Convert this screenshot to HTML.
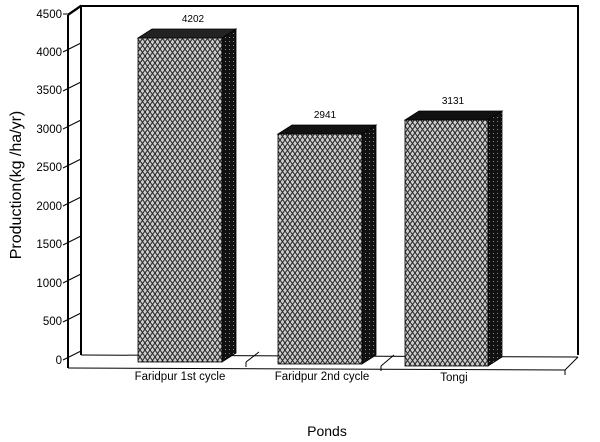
<!DOCTYPE html>
<html><head><style>body{margin:0;background:#fff}svg{display:block}text{font-family:"Liberation Sans",sans-serif;fill:#000}</style></head><body>
<svg width="600" height="442" viewBox="0 0 600 442">
<defs>
<pattern id="x" width="5" height="7" patternUnits="userSpaceOnUse">
<rect width="5" height="7" fill="#ccc"/>
<path d="M0,0L2.5,3.5L0,7M5,0L2.5,3.5L5,7" stroke="#222" stroke-width="1" fill="none"/>
</pattern>
<pattern id="d" width="4" height="4" patternUnits="userSpaceOnUse">
<rect width="4" height="4" fill="#111"/><rect x="1" y="1" width="1" height="1" fill="#888"/>
</pattern>
</defs>
<g stroke="#000" fill="none" stroke-width="2">
<polyline points="81,355 81,6 578,6 578,355"/>
<line x1="68" y1="15" x2="68" y2="368"/>
<line x1="68" y1="15" x2="81" y2="6"/>
</g>
<g stroke="#000" stroke-width="1" fill="none">
<line x1="68" y1="368" x2="565" y2="370"/>
<line x1="81" y1="355" x2="578" y2="357"/>
<line x1="565" y1="370" x2="578" y2="357"/>
<line x1="565" y1="370" x2="565" y2="375"/>
<line x1="246" y1="362" x2="259" y2="352"/><line x1="246" y1="362" x2="246" y2="367"/>
<line x1="381" y1="366" x2="394" y2="355"/><line x1="381" y1="366" x2="381" y2="371"/>
</g>
<g font-size="11.5" text-anchor="end">
<text x="62" y="18">4500</text><text x="62" y="56">4000</text><text x="62" y="94">3500</text><text x="62" y="133">3000</text><text x="62" y="171">2500</text><text x="62" y="210">2000</text><text x="62" y="248">1500</text><text x="62" y="287">1000</text><text x="62" y="325">500</text><text x="62" y="364">0</text>
</g>
<g stroke="#000" stroke-width="1">
<line x1="63" y1="14" x2="68" y2="14"/><line x1="68" y1="14" x2="81" y2="5"/>
<line x1="63" y1="52" x2="81" y2="43"/><line x1="63" y1="91" x2="81" y2="82"/><line x1="63" y1="129" x2="81" y2="120"/><line x1="63" y1="168" x2="81" y2="159"/><line x1="63" y1="206" x2="81" y2="197"/><line x1="63" y1="245" x2="81" y2="236"/><line x1="63" y1="283" x2="81" y2="274"/><line x1="63" y1="322" x2="81" y2="313"/><line x1="63" y1="360" x2="81" y2="351"/>
</g>
<g stroke="#000" stroke-width="0.8">
<rect x="138" y="38" width="84" height="324" fill="url(#x)"/>
<polygon points="222,38 236,29 236,353 222,362" fill="url(#d)"/>
<polygon points="138,38 152,29 236,29 222,38" fill="#222"/>
<rect x="278" y="134" width="84" height="230" fill="url(#x)"/>
<polygon points="362,134 376,125 376,355 362,364" fill="url(#d)"/>
<polygon points="278,134 292,125 376,125 362,134" fill="#111"/>
<rect x="405" y="120" width="83" height="246" fill="url(#x)"/>
<polygon points="488,120 502,111 502,357 488,366" fill="url(#d)"/>
<polygon points="405,120 419,111 502,111 488,120" fill="#111"/>
</g>
<g font-size="10" text-anchor="middle">
<text x="193" y="22">4202</text><text x="325" y="118">2941</text><text x="453" y="104">3131</text>
</g>
<g font-size="11.5" text-anchor="middle">
<text x="180" y="380">Faridpur 1st cycle</text><text x="322" y="380">Faridpur 2nd cycle</text><text x="454" y="381">Tongi</text>
<text x="327" y="436" font-size="14">Ponds</text>
<text transform="translate(21,185) rotate(-90)" font-size="16">Production(kg /ha/yr)</text>
</g>
</svg>
</body></html>
